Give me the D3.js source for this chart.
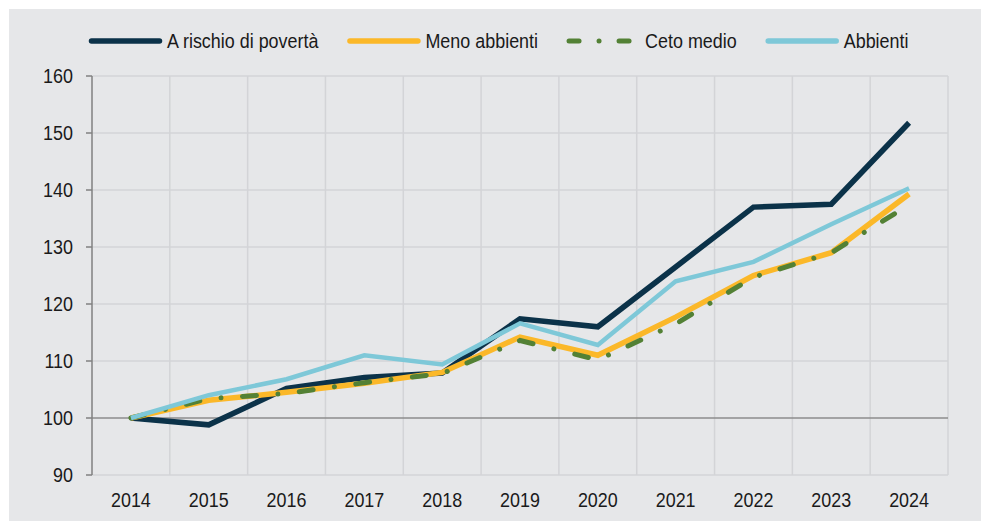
<!DOCTYPE html>
<html>
<head>
<meta charset="utf-8">
<title>Indice per classe di reddito</title>
<style>
body { margin: 0; background: #ffffff; }
svg { display: block; }
text { font-family: "Liberation Sans", Arial, sans-serif; fill: #1a1a1a; }
</style>
<script src="https://d3js.org/d3.v7.min.js"></script>
</head>
<body>
<svg id="chart" width="981" height="521"></svg>
<script>
// data
const years = ["2014", "2015", "2016", "2017", "2018", "2019", "2020", "2021", "2022", "2023", "2024"];
const rischio = [100, 98.8, 105.2, 107.1, 107.9, 117.4, 116.0, 126.5, 137.0, 137.5, 151.8];
const menoAbbienti = [100, 103.1, 104.5, 106.1, 108.0, 114.2, 111.0, 117.7, 125.0, 129.0, 139.3];
const cetoMedio = [100, 103.4, 104.3, 106.2, 107.8, 113.6, 110.2, 116.5, 124.7, 129.0, 137.4];
const abbienti = [100, 104.0, 106.8, 111.0, 109.4, 116.6, 112.8, 124.0, 127.4, 134.0, 140.3];
const yTicks = [90, 100, 110, 120, 130, 140, 150, 160];
const seriesNames = ["A rischio di povertà", "Meno abbienti", "Ceto medio", "Abbienti"];

const SX = 0.92; // text is a bit condensed in the original

const svg = d3.select("#chart");
const W = +svg.attr("width");
const H = +svg.attr("height");

svg.append("rect")
    .attr("x", 9).attr("y", 9)
    .attr("width", W - 9).attr("height", H - 9)
    .attr("fill", "#e6e7e9");

const x = d3.scaleBand().domain(years).range([92, 948]).padding(0);
const y = d3.scaleLinear().domain([90, 160]).range([475, 76]);
const xc = d => x(d) + x.bandwidth() / 2;

// grid
const grid = svg.append("g");
grid.selectAll("line.h")
    .data(yTicks.filter(t => t !== 100))
    .enter().append("line")
    .attr("x1", 92).attr("x2", 948)
    .attr("y1", d => y(d)).attr("y2", d => y(d))
    .attr("stroke", "#d3d4d7").attr("stroke-width", 1.5);
grid.selectAll("line.v")
    .data(years)
    .enter().append("line")
    .attr("x1", d => x(d) + x.bandwidth()).attr("x2", d => x(d) + x.bandwidth())
    .attr("y1", y(160)).attr("y2", y(90))
    .attr("stroke", "#d3d4d7").attr("stroke-width", 1.5);

// base line at 100
svg.append("line")
    .attr("x1", 92).attr("x2", 948)
    .attr("y1", y(100)).attr("y2", y(100))
    .attr("stroke", "#8c8c8c").attr("stroke-width", 1.5);

// y axis
svg.append("line")
    .attr("x1", 92).attr("x2", 92)
    .attr("y1", y(160)).attr("y2", y(90))
    .attr("stroke", "#808080").attr("stroke-width", 1.5);
svg.selectAll("line.ytick")
    .data(yTicks)
    .enter().append("line")
    .attr("x1", 86).attr("x2", 92)
    .attr("y1", d => y(d)).attr("y2", d => y(d))
    .attr("stroke", "#808080").attr("stroke-width", 1.5);
svg.selectAll("g.ylab")
    .data(yTicks)
    .enter().append("g")
    .attr("transform", d => `translate(73,${y(d) + 7.3}) scale(${SX},1)`)
    .append("text")
    .attr("text-anchor", "end")
    .style("font-size", "19.5px")
    .text(d => d);

// x labels
svg.selectAll("g.xlab")
    .data(years)
    .enter().append("g")
    .attr("transform", d => `translate(${xc(d)},507) scale(${SX},1)`)
    .append("text")
    .attr("text-anchor", "middle")
    .style("font-size", "19.5px")
    .text(d => d);

// series
const styles = [
    { color: "#0b3249", width: 5.5, dash: null },
    { color: "#fbb829", width: 5.5, dash: null },
    { color: "#538135", width: 5, dash: "14,21.5,0.01,21.5" },
    { color: "#7ec8d8", width: 4.5, dash: null }
];
const allSeries = [rischio, menoAbbienti, cetoMedio, abbienti];

const line = d3.line()
    .x((d, i) => xc(years[i]))
    .y(d => y(d));

allSeries.forEach((vals, k) => {
    const s = styles[k];
    svg.append("path")
        .datum(vals)
        .attr("d", line)
        .attr("fill", "none")
        .attr("stroke", s.color)
        .attr("stroke-width", s.width)
        .attr("stroke-linejoin", "miter")
        .attr("stroke-linecap", s.dash ? "round" : "butt")
        .attr("stroke-dasharray", s.dash);
});

// legend
let lx = 89;
const ly = 41;
seriesNames.forEach((name, k) => {
    const s = styles[k];
    const g = svg.append("g");
    if (s.dash) {
        g.append("line")
            .attr("x1", lx + 2).attr("x2", lx + 73 - 2)
            .attr("y1", ly).attr("y2", ly)
            .attr("stroke", s.color).attr("stroke-width", 5)
            .attr("stroke-linecap", "round")
            .attr("stroke-dasharray", "10,20,0.01,20");
    } else {
        g.append("line")
            .attr("x1", lx + 2.5).attr("x2", lx + 73 - 2.5)
            .attr("y1", ly).attr("y2", ly)
            .attr("stroke", s.color).attr("stroke-width", 5.5)
            .attr("stroke-linecap", "round");
    }
    const t = g.append("g")
        .attr("transform", `translate(${lx + 78},${ly + 7.3}) scale(${SX},1)`)
        .append("text")
        .style("font-size", "19.5px")
        .text(name);
    const tw = t.node().getComputedTextLength() * SX;
    lx = lx + 78 + tw + 29;
});
</script>
</body>
</html>
